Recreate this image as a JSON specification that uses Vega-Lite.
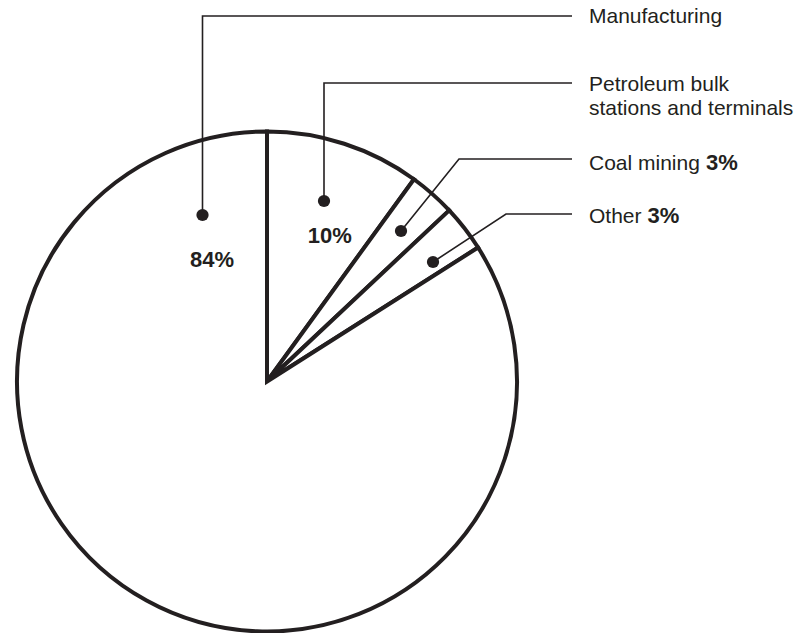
{
  "$schema": "https://vega.github.io/schema/vega-lite/v6.json",
  "width": 500,
  "height": 500,
  "autosize": "none",
  "padding": {"left": 17, "top": 131.5, "right": 281, "bottom": 1.5},
  "background": "white",
  "config": {"view": {"stroke": null}},
  "datasets": {
    "slices": [
      {"category": "Petroleum bulk stations and terminals", "value": 10, "order": 1},
      {"category": "Coal mining", "value": 3, "order": 2},
      {"category": "Other", "value": 3, "order": 3},
      {"category": "Manufacturing", "value": 84, "order": 4}
    ],
    "leaders": [
      {"id": "Manufacturing", "ord": 1, "x": -0.258, "y": 0.666},
      {"id": "Manufacturing", "ord": 2, "x": -0.258, "y": 1.462},
      {"id": "Manufacturing", "ord": 3, "x": 1.22, "y": 1.462},
      {"id": "Petroleum", "ord": 1, "x": 0.228, "y": 0.722},
      {"id": "Petroleum", "ord": 2, "x": 0.228, "y": 1.194},
      {"id": "Petroleum", "ord": 3, "x": 1.22, "y": 1.194},
      {"id": "Coal", "ord": 1, "x": 0.536, "y": 0.602},
      {"id": "Coal", "ord": 2, "x": 0.768, "y": 0.89},
      {"id": "Coal", "ord": 3, "x": 1.22, "y": 0.89},
      {"id": "Other", "ord": 1, "x": 0.664, "y": 0.478},
      {"id": "Other", "ord": 2, "x": 0.956, "y": 0.67},
      {"id": "Other", "ord": 3, "x": 1.22, "y": 0.67}
    ],
    "dots": [
      {"id": "Manufacturing", "x": -0.258, "y": 0.666},
      {"id": "Petroleum", "x": 0.228, "y": 0.722},
      {"id": "Coal", "x": 0.536, "y": 0.602},
      {"id": "Other", "x": 0.664, "y": 0.478}
    ],
    "regular": [
      {"text": "Manufacturing", "x": 1.288, "y": 1.433},
      {"text": "Petroleum bulk", "x": 1.288, "y": 1.162},
      {"text": "stations and terminals", "x": 1.288, "y": 1.066},
      {"text": "Coal mining", "x": 1.288, "y": 0.846},
      {"text": "Other", "x": 1.288, "y": 0.634}
    ],
    "boldLeft": [
      {"text": "3%", "x": 1.756, "y": 0.846},
      {"text": "3%", "x": 1.522, "y": 0.634}
    ],
    "boldCenter": [
      {"text": "84%", "x": -0.22, "y": 0.459},
      {"text": "10%", "x": 0.251, "y": 0.554}
    ]
  },
  "layer": [
    {
      "data": {"name": "slices"},
      "mark": {"type": "arc", "fill": "white", "stroke": "#231f20", "strokeWidth": 4, "strokeJoin": "miter"},
      "encoding": {
        "theta": {"field": "value", "type": "quantitative", "stack": true},
        "order": {"field": "order", "type": "quantitative"}
      }
    },
    {
      "data": {"name": "leaders"},
      "mark": {"type": "line", "color": "#231f20", "strokeWidth": 1.6, "clip": false},
      "encoding": {
        "x": {"field": "x", "type": "quantitative", "scale": {"domain": [-1, 1], "nice": false, "zero": false}, "axis": null},
        "y": {"field": "y", "type": "quantitative", "scale": {"domain": [-1, 1], "nice": false, "zero": false}, "axis": null},
        "detail": {"field": "id", "type": "nominal"},
        "order": {"field": "ord", "type": "quantitative"}
      }
    },
    {
      "data": {"name": "dots"},
      "mark": {"type": "point", "filled": true, "color": "#231f20", "size": 150, "opacity": 1, "shape": "circle"},
      "encoding": {
        "x": {"field": "x", "type": "quantitative"},
        "y": {"field": "y", "type": "quantitative"}
      }
    },
    {
      "data": {"name": "regular"},
      "mark": {"type": "text", "font": "Liberation Sans", "fontSize": 21, "align": "left", "baseline": "alphabetic", "color": "#231f20"},
      "encoding": {
        "x": {"field": "x", "type": "quantitative"},
        "y": {"field": "y", "type": "quantitative"},
        "text": {"field": "text", "type": "nominal"}
      }
    },
    {
      "data": {"name": "boldLeft"},
      "mark": {"type": "text", "font": "Liberation Sans", "fontSize": 22, "fontWeight": "bold", "align": "left", "baseline": "alphabetic", "color": "#231f20"},
      "encoding": {
        "x": {"field": "x", "type": "quantitative"},
        "y": {"field": "y", "type": "quantitative"},
        "text": {"field": "text", "type": "nominal"}
      }
    },
    {
      "data": {"name": "boldCenter"},
      "mark": {"type": "text", "font": "Liberation Sans", "fontSize": 22, "fontWeight": "bold", "align": "center", "baseline": "alphabetic", "color": "#231f20"},
      "encoding": {
        "x": {"field": "x", "type": "quantitative"},
        "y": {"field": "y", "type": "quantitative"},
        "text": {"field": "text", "type": "nominal"}
      }
    }
  ]
}
